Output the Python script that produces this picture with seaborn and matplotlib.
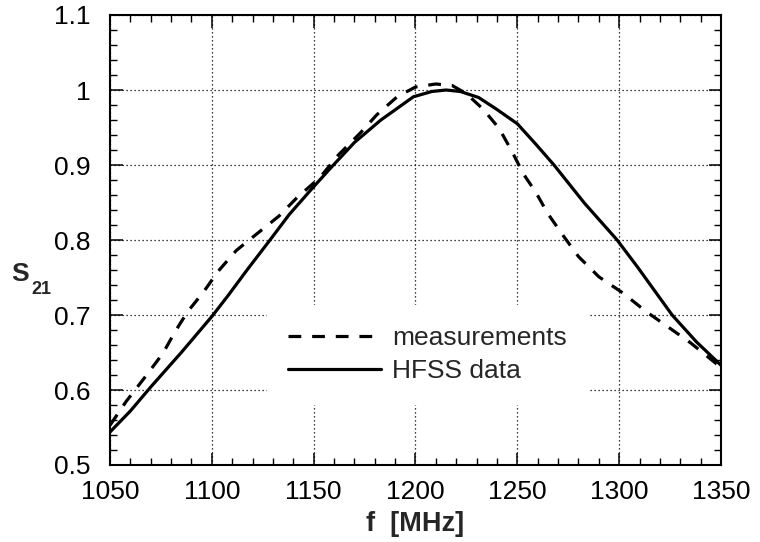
import numpy as np
import pandas as pd
import matplotlib
matplotlib.use("Agg")
import matplotlib.pyplot as plt
import seaborn as sns
from matplotlib.ticker import MultipleLocator, FixedLocator, FixedFormatter

# ---- data ----
f_meas = [1050, 1058, 1068, 1076, 1082, 1088, 1096, 1103, 1112, 1122, 1133, 1142,
          1153, 1162, 1173, 1181, 1191, 1200, 1210, 1218, 1225, 1233, 1241, 1247,
          1253, 1259, 1265, 1273, 1280, 1290, 1302, 1313, 1323, 1335, 1345, 1350]
s_meas = [0.553, 0.585, 0.620, 0.649, 0.678, 0.704, 0.731, 0.758, 0.786, 0.808, 0.832, 0.857,
          0.883, 0.913, 0.943, 0.967, 0.991, 1.004, 1.008, 1.006, 0.995, 0.975, 0.949, 0.920,
          0.888, 0.864, 0.835, 0.804, 0.778, 0.751, 0.729, 0.705, 0.686, 0.663, 0.641, 0.630]

f_hfss = [1050, 1060, 1070, 1085, 1100, 1108, 1117, 1128, 1138, 1149, 1158, 1170,
          1183, 1199, 1208, 1215, 1222, 1231, 1240, 1250, 1259, 1268, 1283, 1299,
          1309, 1326, 1338, 1350]
s_hfss = [0.544, 0.572, 0.604, 0.650, 0.698, 0.726, 0.759, 0.798, 0.834, 0.868, 0.895, 0.930,
          0.960, 0.991, 0.998, 1.000, 0.998, 0.990, 0.974, 0.955, 0.928, 0.900, 0.849, 0.800,
          0.764, 0.700, 0.664, 0.633]

series_names = ["measurements", "HFSS data"]
x_ticks = [1050, 1100, 1150, 1200, 1250, 1300, 1350]
y_ticks = [0.5, 0.6, 0.7, 0.8, 0.9, 1.0, 1.1]
y_tick_labels = ["0.5", "0.6", "0.7", "0.8", "0.9", "1", "1.1"]
x_label = "f  [MHz]"
y_label_main = "S"
y_label_sub = "21"

# ---- style ----
sns.set_style("ticks")
plt.rcParams["font.family"] = ["Liberation Sans", "DejaVu Sans"]

fig = plt.figure(figsize=(7.6, 5.42), dpi=100)
ax = fig.add_axes([110 / 760, 1 - 465 / 542, 611 / 760, 450 / 542])

df_meas = pd.DataFrame({"f": f_meas, "S21": s_meas})
df_hfss = pd.DataFrame({"f": f_hfss, "S21": s_hfss})

sns.lineplot(data=df_meas, x="f", y="S21", ax=ax, color="black", lw=2.3,
             linestyle=(0, (4.0, 3.4)), label=series_names[0], sort=False, estimator=None)
sns.lineplot(data=df_hfss, x="f", y="S21", ax=ax, color="black", lw=2.3,
             linestyle="-", label=series_names[1], sort=False, estimator=None)

ax.set_xlim(1050, 1350)
ax.set_ylim(0.5, 1.1)
ax.xaxis.set_major_locator(FixedLocator(x_ticks))
ax.yaxis.set_major_locator(FixedLocator(y_ticks))
ax.yaxis.set_major_formatter(FixedFormatter(y_tick_labels))
ax.xaxis.set_minor_locator(MultipleLocator(10))
ax.yaxis.set_minor_locator(MultipleLocator(0.02))

ax.tick_params(which="both", direction="in", top=True, right=True, colors="black",
               labelsize=19)
ax.tick_params(which="major", length=9, width=1.1)
ax.tick_params(which="minor", length=5, width=1.0)
ax.tick_params(axis="x", which="major", pad=11)
ax.tick_params(axis="y", which="major", pad=14)

for sp in ax.spines.values():
    sp.set_linewidth(1.5)
    sp.set_color("black")

ax.grid(True, which="major", color="black", linestyle=(0, (1, 2.2)), lw=0.9)
ax.set_axisbelow(True)

ax.set_xlabel(x_label, fontsize=19.5, fontweight="bold", labelpad=5)
ax.set_ylabel("")
fig.text(11 / 760, 1 - 281 / 542, y_label_main, fontsize=19, fontweight="bold",
         ha="left", va="baseline")
fig.text(31 / 760, 1 - 294 / 542, y_label_sub, fontsize=13, fontweight="bold",
         ha="left", va="baseline")

leg = ax.legend(loc="center", bbox_to_anchor=(0.52, 0.245), frameon=True,
                fontsize=19, handlelength=3.5, handletextpad=0.45,
                borderpad=0.8, labelspacing=0.35, fancybox=False)
leg.get_frame().set_facecolor("white")
leg.get_frame().set_edgecolor("white")
leg.get_frame().set_alpha(1.0)
for line in leg.get_lines():
    line.set_linewidth(2.3)

fig.savefig("out.png", dpi=100)
